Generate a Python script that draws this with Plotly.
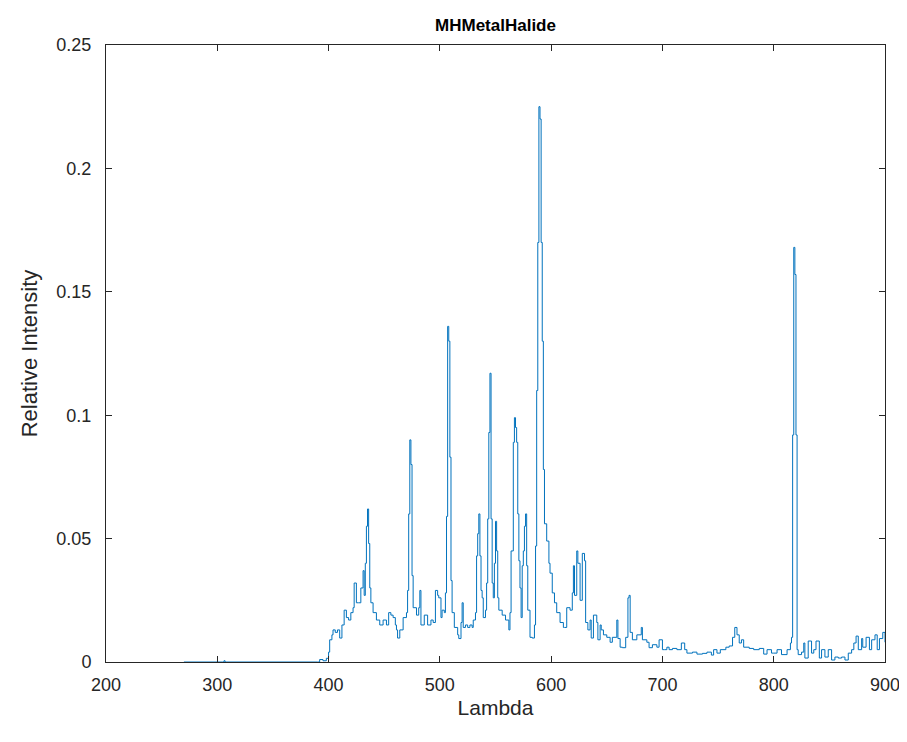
import plotly.graph_objects as go

# Spectrum data (wavelength in nm, relative intensity)
wavelength = [
    270, 305, 306, 307, 390, 392, 395, 398,
    400, 401, 403, 404, 406, 408, 410, 412, 414, 416, 418, 420, 422, 423, 425, 427, 429,
    431, 432, 433, 434, 435, 436, 437, 438, 440, 443, 446, 449, 452, 454, 456, 458, 460,
    461, 462, 464, 467, 470, 471, 472, 473, 474, 475, 476, 479, 481, 482, 483, 486, 489,
    492, 494, 496, 498, 499, 501, 502, 504, 505, 506, 507, 508, 509, 510, 511, 513, 516,
    517, 519, 520, 521, 523, 525, 527, 529, 530, 532, 533, 534, 535, 536, 537, 538, 539,
    541, 542, 543, 544, 545, 546, 547, 548, 549, 550, 551, 552, 553, 556, 559, 562, 563,
    564, 566, 567, 568, 569, 570, 571, 572, 573, 574, 575, 576, 577, 578, 579, 581, 583,
    585, 586, 587, 588, 589, 590, 591, 592, 593, 594, 596, 598, 599, 601, 603, 605, 608,
    611, 612, 614, 617, 619, 620, 621, 623, 624, 626, 628, 630, 631, 633, 635, 636, 638,
    641, 642, 644, 645, 647, 650, 653, 655, 659, 660, 662, 664, 667, 669, 670, 671, 673,
    677, 681, 682, 686, 688, 691, 695, 697, 700, 702, 704, 706, 709, 713, 717, 720, 722,
    727, 731, 736, 740, 744, 746, 749, 752, 757, 760, 763, 765, 767, 769, 771, 773, 778,
    782, 787, 791, 794, 798, 800, 803, 807, 812, 815, 816, 817, 818, 819, 820, 821, 822,
    825, 827, 828, 831, 834, 836, 838, 841, 843, 846, 849, 852, 855, 858, 861, 864, 867,
    870, 872, 874, 876, 879, 880, 883, 886, 888, 891, 893, 895, 898, 900,
]
intensity = [
    0, 0, 0.0005, 0, 0, 0.001, 0.0005, 0.0015,
    0.004, 0.009, 0.011, 0.013, 0.012, 0.013, 0.0097, 0.015, 0.021, 0.018, 0.017, 0.020, 0.022, 0.032, 0.024, 0.024, 0.030,
    0.037, 0.027, 0.040, 0.055, 0.062, 0.048, 0.030, 0.024, 0.020, 0.017, 0.015, 0.017, 0.015, 0.020, 0.019, 0.018, 0.015,
    0.013, 0.0097, 0.013, 0.018, 0.020, 0.029, 0.060, 0.090, 0.080, 0.035, 0.022, 0.019, 0.022, 0.029, 0.015, 0.019, 0.015,
    0.017, 0.016, 0.029, 0.027, 0.026, 0.018, 0.021, 0.020, 0.028, 0.059, 0.136, 0.130, 0.083, 0.033, 0.020, 0.014, 0.011,
    0.0095, 0.016, 0.024, 0.014, 0.015, 0.014, 0.015, 0.014, 0.017, 0.020, 0.043, 0.052, 0.060, 0.043, 0.029, 0.026, 0.018,
    0.021, 0.032, 0.058, 0.093, 0.117, 0.058, 0.032, 0.026, 0.040, 0.057, 0.045, 0.026, 0.021, 0.019, 0.017, 0.013, 0.020,
    0.045, 0.089, 0.099, 0.095, 0.089, 0.060, 0.041, 0.030, 0.018, 0.039, 0.045, 0.055, 0.060, 0.039, 0.021, 0.010, 0.0097,
    0.015, 0.047, 0.11, 0.17, 0.225, 0.220, 0.17, 0.130, 0.078, 0.056, 0.049, 0.040, 0.036, 0.028, 0.024, 0.020, 0.016,
    0.014, 0.014, 0.022, 0.021, 0.028, 0.039, 0.027, 0.045, 0.040, 0.025, 0.044, 0.041, 0.016, 0.013, 0.017, 0.0097, 0.019,
    0.016, 0.009, 0.015, 0.013, 0.011, 0.010, 0.008, 0.010, 0.017, 0.0095, 0.006, 0.0058, 0.010, 0.026, 0.027, 0.012, 0.009,
    0.011, 0.014, 0.009, 0.008, 0.0058, 0.007, 0.006, 0.009, 0.005, 0.005, 0.006, 0.005, 0.0055, 0.005, 0.0077, 0.005, 0.0036,
    0.004, 0.0032, 0.0035, 0.004, 0.0028, 0.005, 0.0036, 0.005, 0.006, 0.0065, 0.010, 0.014, 0.011, 0.0077, 0.009, 0.006, 0.0055,
    0.005, 0.0055, 0.0032, 0.005, 0.0036, 0.0036, 0.005, 0.003, 0.005, 0.0077, 0.010, 0.092, 0.168, 0.157, 0.092, 0.005, 0.003,
    0.004, 0.0077, 0.0016, 0.0085, 0.0036, 0.005, 0.0085, 0.0016, 0.005, 0.002, 0.005, 0.0008, 0.002, 0.0016, 0.002, 0.0008, 0.0036,
    0.005, 0.0077, 0.0105, 0.005, 0.0095, 0.006, 0.010, 0.005, 0.009, 0.011, 0.005, 0.0095, 0.012, 0.008,
]

x_ticks = [200, 300, 400, 500, 600, 700, 800, 900]
y_ticks = [0, 0.05, 0.1, 0.15, 0.2, 0.25]
y_tick_labels = ["0", "0.05", "0.1", "0.15", "0.2", "0.25"]

title_text = "MHMetalHalide"
x_label = "Lambda"
y_label = "Relative Intensity"

FONT = "Liberation Sans, Arial, sans-serif"

fig = go.Figure()
fig.add_trace(go.Scatter(
    x=wavelength, y=intensity, mode="lines",
    line=dict(color="#0072BD", width=1, shape="hv"),
    showlegend=False,
))

axis_common = dict(
    showline=True, linecolor="#262626", linewidth=1, mirror="allticks",
    ticks="inside", ticklen=6, tickcolor="#262626", tickwidth=1,
    showgrid=False, zeroline=False, ticklabeloverflow="allow", automargin=False,
    tickfont=dict(family=FONT, size=18, color="#262626"),
)

fig.update_layout(
    width=891, height=726,
    paper_bgcolor="white", plot_bgcolor="white",
    margin=dict(l=98, r=14, t=37, b=72, autoexpand=False),
    title=dict(text="<b>" + title_text + "</b>", x=0.5, xref="paper", xanchor="center",
               y=1, yref="paper", yanchor="bottom", pad=dict(b=14),
               font=dict(family=FONT, size=17, color="black")),
    xaxis=dict(range=[200, 900], tickvals=x_ticks, ticklabelstandoff=6,
               title=dict(text=x_label, standoff=6,
                          font=dict(family=FONT, size=21, color="#262626")),
               **axis_common),
    yaxis=dict(range=[0, 0.25], tickvals=y_ticks, ticktext=y_tick_labels,
               ticklabelstandoff=10,
               title=dict(text=y_label, standoff=12,
                          font=dict(family=FONT, size=22, color="#262626")),
               **axis_common),
)

fig.write_html("out.html")
